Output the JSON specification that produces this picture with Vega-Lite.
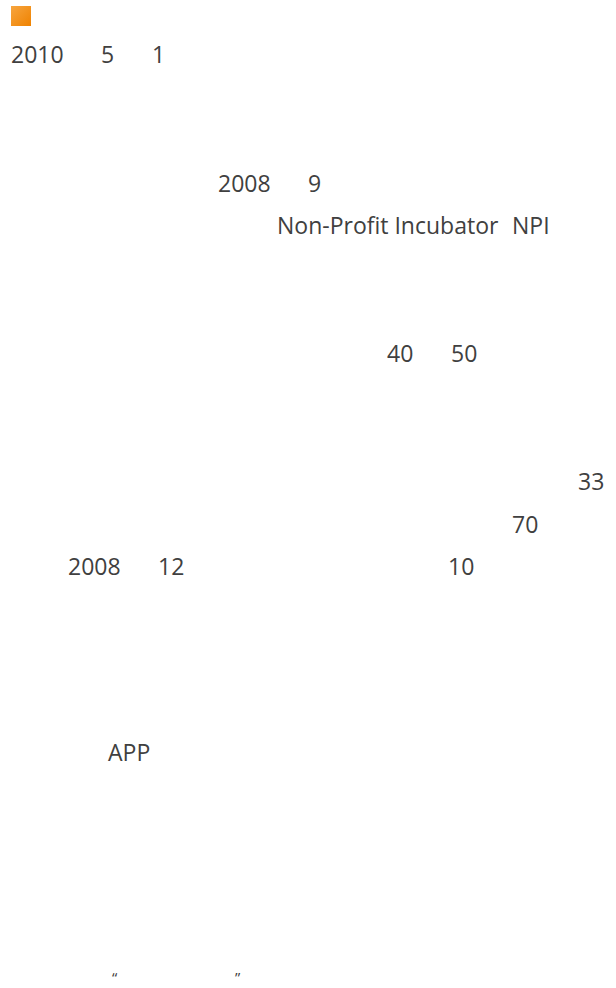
{
  "$schema": "https://vega.github.io/schema/vega-lite/v6.json",
  "autosize": {"type": "fit", "contains": "padding"},
  "width": 616,
  "height": 988,
  "padding": 0,
  "background": "white",
  "config": {"view": {"stroke": null}},
  "datasets": {
    "marker": [{"x0": 11, "x1": 31, "y0": 6, "y1": 26}],
    "words": [
      {"t": "2010", "x": 11, "y": 63, "kind": "word"},
      {"t": "5", "x": 101, "y": 63, "kind": "word"},
      {"t": "1", "x": 152, "y": 63, "kind": "word"},
      {"t": "2008", "x": 218, "y": 192, "kind": "word"},
      {"t": "9", "x": 308, "y": 192, "kind": "word"},
      {"t": "Non-Profit Incubator", "x": 277, "y": 234, "kind": "word"},
      {"t": "NPI", "x": 512, "y": 234, "kind": "word"},
      {"t": "40", "x": 387, "y": 362, "kind": "word"},
      {"t": "50", "x": 451, "y": 362, "kind": "word"},
      {"t": "33", "x": 578, "y": 490, "kind": "word"},
      {"t": "70", "x": 512, "y": 533, "kind": "word"},
      {"t": "2008", "x": 68, "y": 575, "kind": "word"},
      {"t": "12", "x": 158, "y": 575, "kind": "word"},
      {"t": "10", "x": 448, "y": 575, "kind": "word"},
      {"t": "APP", "x": 108, "y": 761, "kind": "word"},
      {"t": "\u201C", "x": 112, "y": 983, "kind": "quote"},
      {"t": "\u201D", "x": 235, "y": 983, "kind": "quote"}
    ]
  },
  "layer": [
    {
      "data": {"name": "marker"},
      "mark": {
        "type": "rect",
        "color": {
          "gradient": "linear",
          "x1": 0, "y1": 0, "x2": 1, "y2": 1,
          "stops": [
            {"offset": 0, "color": "#f7a53f"},
            {"offset": 1, "color": "#ef8200"}
          ]
        }
      },
      "encoding": {
        "x": {"field": "x0", "type": "quantitative", "scale": {"domain": [0, 616], "nice": false, "zero": false}, "axis": null},
        "x2": {"field": "x1"},
        "y": {"field": "y0", "type": "quantitative", "scale": {"domain": [0, 988], "nice": false, "zero": false, "reverse": true}, "axis": null},
        "y2": {"field": "y1"}
      }
    },
    {
      "data": {"name": "words"},
      "transform": [{"filter": "datum.kind === 'word'"}],
      "mark": {
        "type": "text",
        "align": "left",
        "baseline": "alphabetic",
        "font": "Open Sans",
        "fontSize": 23,
        "color": "#404040"
      },
      "encoding": {
        "x": {"field": "x", "type": "quantitative", "scale": {"domain": [0, 616], "nice": false, "zero": false}, "axis": null},
        "y": {"field": "y", "type": "quantitative", "scale": {"domain": [0, 988], "nice": false, "zero": false, "reverse": true}, "axis": null},
        "text": {"field": "t"}
      }
    },
    {
      "data": {"name": "words"},
      "transform": [{"filter": "datum.kind === 'quote'"}],
      "mark": {
        "type": "text",
        "align": "left",
        "baseline": "alphabetic",
        "font": "Open Sans",
        "fontSize": 15,
        "color": "#404040"
      },
      "encoding": {
        "x": {"field": "x", "type": "quantitative", "scale": {"domain": [0, 616], "nice": false, "zero": false}, "axis": null},
        "y": {"field": "y", "type": "quantitative", "scale": {"domain": [0, 988], "nice": false, "zero": false, "reverse": true}, "axis": null},
        "text": {"field": "t"}
      }
    }
  ]
}
